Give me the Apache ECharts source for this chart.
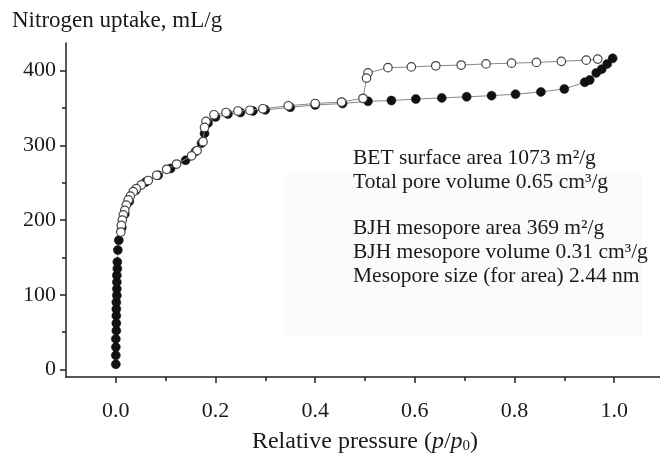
<!DOCTYPE html>
<html>
<head>
<meta charset="utf-8">
<script src="https://cdn.jsdelivr.net/npm/echarts@6/dist/echarts.min.js"></script>
<style>html,body{margin:0;padding:0;background:#fff}#c{width:660px;height:454px}</style>
</head>
<body>
<div id="c"></div>
<script>
// Adsorption branch (filled circles): relative pressure, uptake mL/g
const adsX = [0.000,0.000,0.000,0.000,0.001,0.001,0.001,0.001,0.001,0.002,0.002,0.002,0.002,0.003,0.003,0.004,0.006,
  0.012,0.018,0.027,0.040,0.060,0.085,0.110,0.140,0.160,0.172,0.178,0.185,0.200,0.225,0.250,0.275,0.300,0.350,0.400,0.455,
  0.506,0.553,0.602,0.654,0.704,0.754,0.802,0.853,0.900,0.941,0.951,0.964,0.975,0.986,0.997];
const adsY = [7,19,30,41,52,62,72,81,90,99,108,117,126,135,144,160,173,
  190,208,225,240,251,260,269,280,292,303,316,330,338,342,344,346,347.5,351,354,356,
  359,360,362,363.5,365,366.5,368.5,371.5,375.5,384.5,387.5,397,402,409,416.5];
// Desorption branch (open circles)
const desX = [0.967,0.944,0.894,0.844,0.794,0.743,0.693,0.642,0.593,0.546,0.506,0.503,0.496,0.453,0.400,0.346,0.295,0.269,0.245,0.221,0.197,0.181,0.178,0.175,0.163,0.152,0.122,0.102,0.082,0.065,0.051,0.041,0.035,0.029,0.025,0.021,0.018,0.015,0.013,0.011,0.010];
const desY = [415.5,414,412.5,411,410,409,407.5,406.5,405,404,397,390,363,358,356,353,349,347,346,344,341,332,324,305,293,286,275,268,260,253,247,242,238,232,227,220,213,207,200,193,184];
// Axis tick steps
const xMajorStep = 0.2, xMinorStep = 0.1;
const yMajorStep = 100, yMinorStep = 50;
const infoLines = ['BET surface area 1073 m²/g','Total pore volume 0.65 cm³/g','BJH mesopore area 369 m²/g','BJH mesopore volume 0.31 cm³/g','Mesopore size (for area) 2.44 nm'];
const infoTops = [147,171,217,241,265];

const FONT = '"Liberation Serif", "Times New Roman", serif';
const TXT = '#1a1a1a';
const AX = '#222';

const chart = echarts.init(document.getElementById('c'), null, {renderer:'canvas'});
const zip = (a,b)=>a.map((v,i)=>[v,b[i]]);

// geometry of main plot: x -0.1..1.1 over [66, 664], y -10..437 over [377, 43]
const L = 66, R = 664, T = 43, B = 377;
const pxX = (R - L) / 1.2;             // px per unit x
const pxY = (B - T) / 447;             // px per unit y
const x0 = L + 0.1 * pxX;              // pixel of x = 0
const x1 = x0 + 1.0 * pxX;             // pixel of x = 1
const y0 = B - 10 * pxY;               // pixel of y = 0
const y400 = y0 - 400 * pxY;           // pixel of y = 400

const hidden = {show:false};
const tickLS = {color:AX, width:1.5};
const gridCommon = {containLabel:false, outerBoundsMode:'none'};

chart.setOption({
  animation:false,
  backgroundColor:'#fff',
  grid:[
    Object.assign({left:L, right:660 - R, top:T, bottom:454 - B}, gridCommon),
    Object.assign({left:x0, right:660 - x1, top:T, bottom:454 - B}, gridCommon),
    Object.assign({left:L, right:660 - R, top:y400, bottom:454 - y0}, gridCommon)
  ],
  xAxis:[
    {type:'value', gridIndex:0, position:'bottom', min:-0.1, max:1.1, splitLine:hidden,
      axisLine:{show:true, onZero:false, lineStyle:{color:AX, width:1.5}}, axisTick:hidden, axisLabel:hidden,
      name:'Relative pressure ({i|p}/{i|p}{s|0})',
      nameLocation:'middle', nameGap:53,
      nameTextStyle:{fontFamily:FONT, fontSize:24, color:TXT,
        rich:{i:{fontFamily:FONT, fontSize:24, fontStyle:'italic', color:TXT},
              s:{fontFamily:FONT, fontSize:15, color:TXT, verticalAlign:'bottom'}}}},
    {type:'value', gridIndex:1, position:'bottom', min:0, max:1, interval:xMajorStep, splitLine:hidden,
      axisLine:{show:false, onZero:false}, axisTick:{show:true, length:6, lineStyle:tickLS},
      axisLabel:{show:true, margin:23, fontFamily:FONT, fontSize:22, color:TXT, formatter:(v)=>v.toFixed(1)}},
    {type:'value', gridIndex:1, position:'bottom', min:0, max:1, interval:xMinorStep, splitLine:hidden,
      axisLine:{show:false, onZero:false}, axisTick:{show:true, length:4, lineStyle:tickLS}, axisLabel:hidden},
    {type:'value', gridIndex:2, position:'bottom', min:0, max:1, show:false}
  ],
  yAxis:[
    {type:'value', gridIndex:0, position:'left', min:-10, max:437, splitLine:hidden,
      axisLine:{show:true, onZero:false, lineStyle:{color:AX, width:1.5}}, axisTick:hidden, axisLabel:hidden},
    {type:'value', gridIndex:1, position:'left', min:0, max:1, show:false},
    {type:'value', gridIndex:2, position:'left', min:0, max:400, interval:yMajorStep, splitLine:hidden,
      axisLine:{show:false, onZero:false}, axisTick:{show:true, length:6, lineStyle:tickLS},
      axisLabel:{show:true, margin:10, fontFamily:FONT, fontSize:22, color:TXT}},
    {type:'value', gridIndex:2, position:'left', min:0, max:400, interval:yMinorStep, splitLine:hidden,
      axisLine:{show:false, onZero:false}, axisTick:{show:true, length:4, lineStyle:tickLS}, axisLabel:hidden}
  ],
  graphic:[
    {type:'rect', z:-1, shape:{x:285, y:172, width:357, height:163}, style:{fill:'#fbfbfb'}},
    {type:'text', left:12, top:9, style:{text:'Nitrogen uptake, mL/g', font:'23px '+FONT, fill:TXT}}
  ].concat(infoLines.map((t,i)=>({type:'text', left:353, top:infoTops[i], style:{text:t, font:'21.5px '+FONT, fill:TXT}}))),
  series:[
    {name:'Adsorption', type:'line', xAxisIndex:0, yAxisIndex:0, data:zip(adsX,adsY), z:2,
      symbol:'circle', symbolSize:9, showSymbol:true,
      itemStyle:{color:'#111', borderColor:'#111', borderWidth:0.5},
      lineStyle:{color:'#888', width:1}},
    {name:'Desorption', type:'line', xAxisIndex:0, yAxisIndex:0, data:zip(desX,desY), z:3,
      symbol:'circle', symbolSize:8.5, showSymbol:true,
      itemStyle:{color:'#fff', borderColor:'#444', borderWidth:1.2},
      lineStyle:{color:'#888', width:1}}
  ]
});
</script>
</body>
</html>
